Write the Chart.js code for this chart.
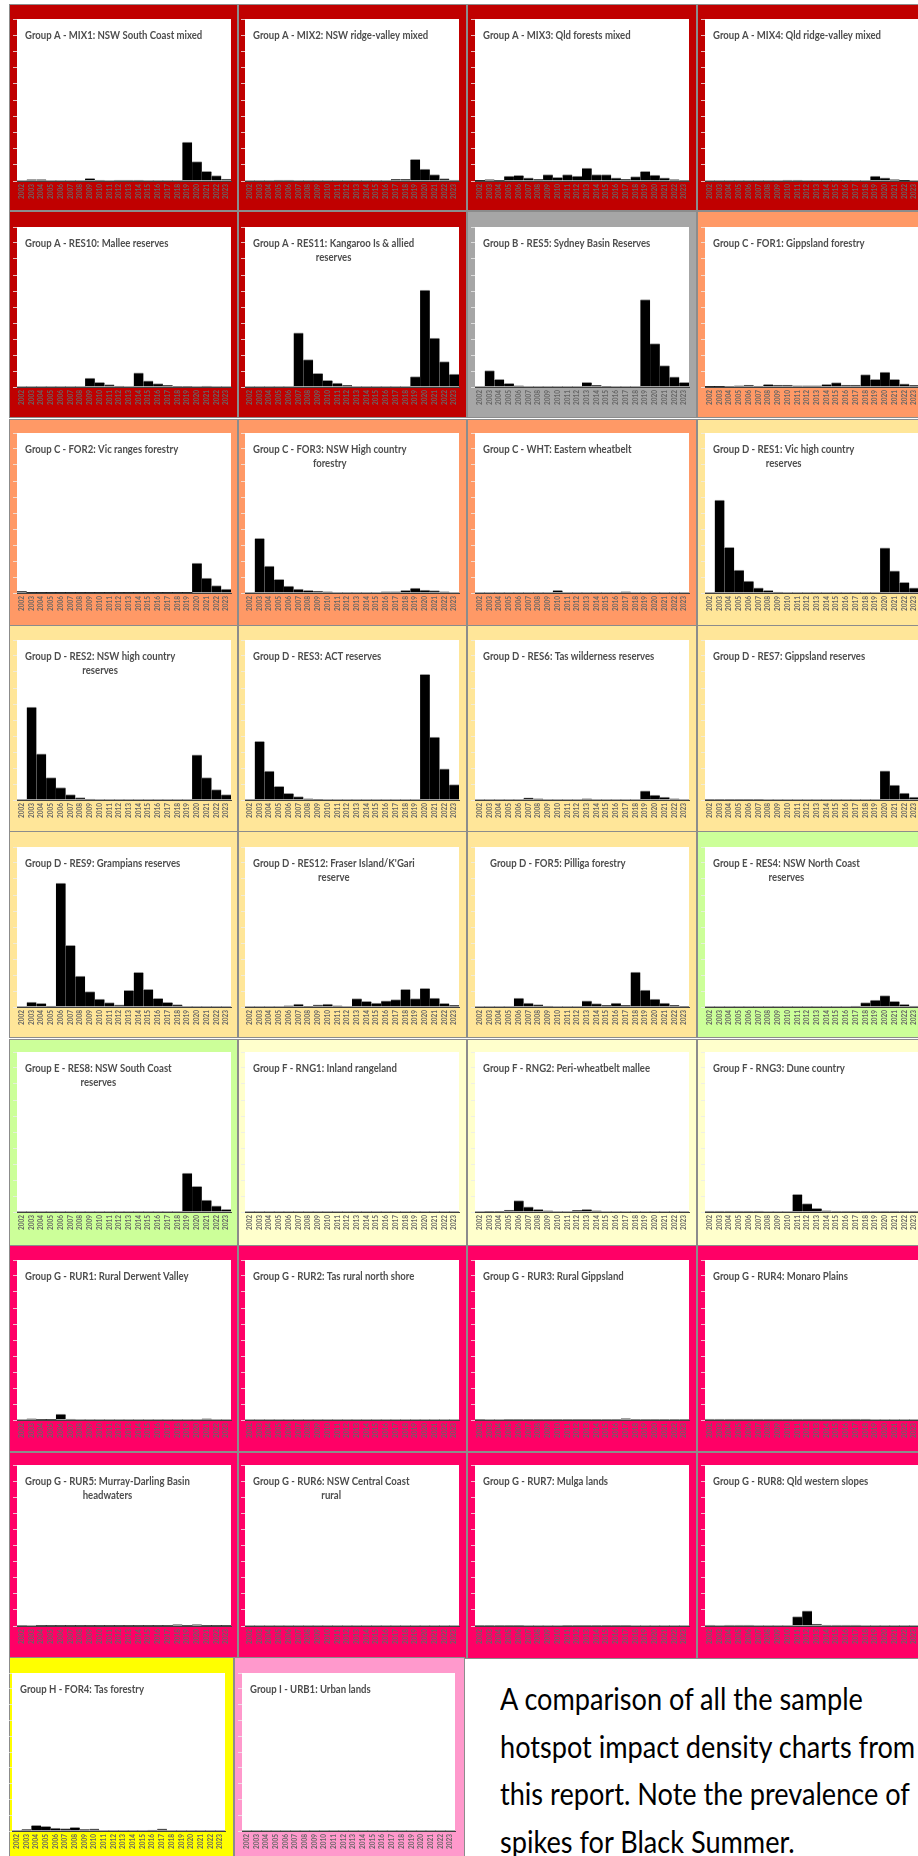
<!DOCTYPE html>
<html>
<head>
<meta charset="utf-8">
<script src="https://cdn.jsdelivr.net/npm/chart.js@4.4.1/dist/chart.umd.min.js"></script>
<style>
  html, body { margin: 0; padding: 0; background: #ffffff; }
  body { width: 918px; height: 1856px; overflow: hidden; position: relative; }
  .cell { position: absolute; box-sizing: border-box; border: 1px solid #8c8c8c; }
  .panel { position: absolute; }
  .note {
    position: absolute; left: 500px; top: 1675px;
    font-family: Lato, "Open Sans", sans-serif; font-size: 31px; line-height: 47.7px;
    color: #000; white-space: nowrap; transform: scaleX(0.875); transform-origin: 0 0;
  }
</style>
</head>
<body>
<div class="note">A comparison of all the sample<br>hotspot impact density charts from<br>this report. Note the prevalence of<br>spikes for Black Summer.</div>
<script>
// Fire years shown on every panel
const YEARS = ['2002','2003','2004','2005','2006','2007','2008','2009','2010','2011','2012',
               '2013','2014','2015','2016','2017','2018','2019','2020','2021','2022','2023'];

// Hotspot impact density per year (share of the panel's vertical axis, 0-100)
const MIX1  = [0, 0.8, 0.8, 0, 0, 0, 0, 1.6, 0.6, 0, 0.6, 0.6, 0.6, 0, 0, 0, 0, 24, 12, 6, 3.3, 1.2];
const MIX2  = [0, 0, 0, 0.6, 0.6, 0, 0, 0, 0, 0, 0, 0, 0, 0, 0, 1, 1, 13.4, 7.4, 4, 1.5, 0.6];
const MIX3  = [0.2, 0.8, 0.3, 3, 3.5, 2, 1, 4, 2.3, 4, 3, 8, 4, 4, 2, 1, 2.7, 6, 3.7, 1.9, 0.8, 0.4];
const MIX4  = [0, 0, 0, 0, 0, 0, 0, 0, 0.6, 0.6, 0, 0, 0, 0, 0, 0, 0, 3, 1.9, 0.8, 0.2, 0];
const RES10 = [0, 0, 0, 0, 0, 0, 0, 5.6, 2.9, 1.5, 0.6, 0, 8.8, 3.8, 2.1, 1, 0.4, 0.4, 0, 0.6, 0, 0];
const RES11 = [0, 0, 0, 0, 0, 33.8, 17.1, 8.6, 4.2, 2.5, 1, 0, 0, 0, 0, 0, 0, 6.5, 60.5, 30.5, 15.9, 8.1];
const RES5  = [0, 10.2, 4.8, 2.3, 0.8, 0, 0, 0, 0, 0, 0, 2.9, 1, 0.4, 0, 0, 0, 54.7, 27.1, 13.4, 6.3, 2.9];
const FOR1  = [0.2, 0.2, 0.4, 0.8, 1.2, 0.6, 1.7, 1.2, 1.2, 0.8, 0.8, 0.8, 1.7, 2.7, 1.2, 1.2, 7.7, 4.8, 9.3, 4.8, 2, 1];
const FOR2  = [1, 0.2, 0.2, 0.2, 0.2, 0.2, 0.2, 0.2, 0.2, 0.2, 0.2, 0.2, 0.2, 0.2, 0.2, 0.2, 0.2, 0.2, 18.7, 9.3, 4.6, 2.5];
const FOR3  = [0, 34.2, 16.8, 8.5, 4.4, 2.5, 1.7, 1.2, 0.8, 0, 0, 0, 0, 0, 0.8, 0.8, 1.7, 3.1, 1.9, 1.5, 0.8, 0];
const WHT   = [0, 0, 0, 0, 0, 0, 0, 0, 1.7, 0, 0, 0, 0, 0, 0, 0.8, 0, 0, 0, 0, 0, 0];
const RES1  = [0, 58, 28.6, 14.3, 7.5, 3.3, 1.7, 0.6, 0, 0, 0, 0, 0, 0, 0, 0, 0, 0, 28.2, 13.9, 6.6, 3.3];
const RES2  = [0, 58, 28.9, 14, 7.8, 3.4, 1.5, 0.6, 0, 0, 0, 0, 0, 0, 0, 0, 0, 0, 28.3, 14, 6.5, 3.4];
const RES3  = [0, 36.6, 18, 8.6, 4.2, 2.1, 0.8, 0.4, 0, 0, 0, 0, 0, 0, 0, 0, 0, 0, 78.5, 39.3, 19.5, 9.6];
const RES6  = [0, 0, 0, 0, 0, 1.4, 0.8, 0, 0, 0, 0, 0.8, 0, 0, 0, 0, 0, 5.8, 3.1, 1.9, 0.8, 0];
const RES7  = [0.4, 0.4, 0.4, 0.4, 0.4, 0.4, 0, 0, 0, 0, 0, 0, 0, 0, 0, 0, 0, 0, 18.2, 9.3, 4.3, 1.9];
const RES9  = [0, 3.1, 2.3, 0.6, 77.5, 38.6, 19.4, 9.6, 5, 2.7, 1.3, 10.4, 21.7, 11.1, 5.4, 2.9, 1.5, 0, 0, 0, 0, 0];
const RES12 = [0, 0, 0, 0, 0.8, 1.9, 0.4, 1.3, 1.9, 0.8, 0, 5.2, 3.5, 2.5, 3.8, 4.6, 11.1, 5.2, 11.7, 5.6, 2.3, 1];
const FOR5  = [0, 0, 0, 0, 5.6, 2.5, 1.5, 0.6, 0, 0, 0, 3.8, 2.1, 1, 2.5, 1, 21.9, 10.6, 5, 2.5, 1, 0.4];
const RES4  = [0, 0, 0, 0, 0, 0, 0, 0, 0, 0, 0, 0, 0, 0, 0, 0.6, 2.7, 4.4, 7.1, 3.6, 1.7, 0.6];
const RES8  = [0, 0, 0, 0, 0, 0, 0, 0, 0, 0, 0, 0, 0, 0, 0, 0, 0, 24.3, 16.1, 7.5, 3.8, 1.7];
const RNG1  = [0, 0, 0, 0, 0, 0, 0, 0, 0, 0, 0, 0, 0, 0, 0, 0, 0, 0, 0, 0, 0, 0];
const RNG2  = [0, 0.4, 0.4, 1.2, 7.1, 3.3, 1.7, 0.8, 0, 0, 1, 1.7, 0.8, 0, 0, 0, 0, 0, 0, 0, 0, 0];
const RNG3  = [0.6, 0.6, 0.6, 0.6, 0.6, 0.6, 0, 0, 0, 11, 5.2, 2.3, 0.8, 0.6, 0.6, 0.6, 0.6, 0.6, 0.6, 0.6, 0.6, 0.6];
const RUR1  = [0, 0.8, 0.3, 0.3, 3.7, 0.6, 0, 0, 0, 0, 0, 0, 0, 0, 0, 0, 0, 0, 0, 0.8, 0, 0];
const RUR2  = [0, 0, 0, 0, 0, 0, 0, 0, 0, 0, 0, 0, 0, 0, 0, 0, 0, 0, 0, 0, 0, 0];
const RUR3  = [0.4, 0, 0, 0.4, 0.4, 0.4, 0.4, 0.4, 0.4, 0.4, 0.4, 0.4, 0.4, 0.4, 0.4, 0.9, 0.4, 0.4, 0.4, 0.4, 0.4, 0.4];
const RUR4  = [0.5, 0.5, 0.5, 0.5, 0.5, 0.5, 0.5, 0.5, 0.5, 0.5, 0.5, 0.5, 0.5, 0.5, 0.5, 0.5, 0.5, 0, 0, 0, 0, 0];
const RUR5  = [0.4, 0, 0.3, 0.3, 0.3, 0.3, 0.3, 0.3, 0.3, 0.3, 0.3, 0.3, 0.3, 0.3, 0.3, 0.3, 0.9, 0.3, 0.9, 0.3, 0.3, 0.3];
const RUR6  = [0, 0, 0, 0, 0, 0, 0, 0, 0, 0, 0, 0, 0, 0, 0, 0, 0, 0, 0, 0, 0, 0];
const RUR7  = [0.4, 0.4, 0.4, 0.4, 0.4, 0, 0, 0, 0, 0.4, 0.4, 0.4, 0.4, 0.4, 0.4, 0.4, 0, 0, 0, 0, 0, 0];
const RUR8  = [0.6, 0, 0.6, 0.6, 0.6, 0, 0, 0, 0, 5.8, 9.5, 1.2, 0.6, 0.6, 0.6, 0.6, 0, 0, 0, 0, 0, 0];
const FOR4  = [0, 1, 3.6, 2.9, 1.9, 1.5, 2.3, 1, 1.3, 0, 0, 0, 0, 0, 0.6, 1.3, 0, 0, 0, 0, 0, 0];
const URB1  = [0, 0, 0, 0, 0, 0, 0, 0, 0, 0, 0, 0, 0, 0, 0, 0, 0, 0, 0, 0, 0, 0];

// Panel fill colour for each landscape group
const GROUP_COLOURS = {
  A: '#C00000', B: '#A6A6A6', C: '#FF9966', D: '#FFE699', E: '#CCFF99',
  F: '#FFFFCC', G: '#FF0066', H: '#FFFF00', I: '#FF99CC'
};

// Panels, row by row: [group, title lines, series]
const PANELS = [
  ['A', ['Group A - MIX1: NSW South Coast mixed'], MIX1],
  ['A', ['Group A - MIX2: NSW ridge-valley mixed'], MIX2],
  ['A', ['Group A - MIX3: Qld forests mixed'], MIX3],
  ['A', ['Group A - MIX4: Qld ridge-valley mixed'], MIX4],
  ['A', ['Group A - RES10: Mallee reserves'], RES10],
  ['A', ['Group A - RES11: Kangaroo Is & allied', 'reserves'], RES11],
  ['B', ['Group B - RES5: Sydney Basin Reserves'], RES5],
  ['C', ['Group C - FOR1: Gippsland forestry'], FOR1],
  ['C', ['Group C - FOR2: Vic ranges forestry'], FOR2],
  ['C', ['Group C - FOR3: NSW High country', 'forestry'], FOR3],
  ['C', ['Group C - WHT: Eastern wheatbelt'], WHT],
  ['D', ['Group D - RES1: Vic high country', 'reserves'], RES1],
  ['D', ['Group D - RES2: NSW high country', 'reserves'], RES2],
  ['D', ['Group D - RES3: ACT reserves'], RES3],
  ['D', ['Group D - RES6: Tas wilderness reserves'], RES6],
  ['D', ['Group D - RES7: Gippsland reserves'], RES7],
  ['D', ['Group D - RES9: Grampians reserves'], RES9],
  ['D', ["Group D - RES12: Fraser Island/K'Gari", 'reserve'], RES12],
  ['D', ['Group D - FOR5: Pilliga forestry'], FOR5],
  ['E', ['Group E - RES4: NSW North Coast', 'reserves'], RES4],
  ['E', ['Group E - RES8: NSW South Coast', 'reserves'], RES8],
  ['F', ['Group F - RNG1: Inland rangeland'], RNG1],
  ['F', ['Group F - RNG2: Peri-wheatbelt mallee'], RNG2],
  ['F', ['Group F - RNG3: Dune country'], RNG3],
  ['G', ['Group G - RUR1: Rural Derwent Valley'], RUR1],
  ['G', ['Group G - RUR2: Tas rural north shore'], RUR2],
  ['G', ['Group G - RUR3: Rural Gippsland'], RUR3],
  ['G', ['Group G - RUR4: Monaro Plains'], RUR4],
  ['G', ['Group G - RUR5: Murray-Darling Basin', 'headwaters'], RUR5],
  ['G', ['Group G - RUR6: NSW Central Coast', 'rural'], RUR6],
  ['G', ['Group G - RUR7: Mulga lands'], RUR7],
  ['G', ['Group G - RUR8: Qld western slopes'], RUR8],
  ['H', ['Group H - FOR4: Tas forestry'], FOR4],
  ['I', ['Group I - URB1: Urban lands'], URB1]
];

// Sheet geometry (page pixels)
const CELL_X   = [9, 238, 467, 697];
const CELL_W   = [229, 229, 230, 232];
const PLOT_X   = [17, 245, 475, 705];
const PLOT_W   = 214;
const ROW_Y    = [4, 211, 419, 625, 831, 1039, 1245, 1452, 1657];
const ROW_H    = 207;
const PLOT_TOP = [19, 227, 433, 640, 847, 1052, 1260, 1465, 1673];
const PLOT_BOT = [181, 387, 593, 800, 1007, 1212, 1420, 1626, 1831];
// last row sits slightly further left
const LAST_CELL_X = [9, 234];
const LAST_CELL_W = [225, 231];
const LAST_PLOT_X = [12, 242];
const LAST_PLOT_W = 213;

const TICK_LEN = 4;
const X_AXIS_H = 22;
const TITLE_SCALE = 0.87;
const TITLE_DX = { 18: 15 };

const panelPaint = {
  id: 'panelPaint',
  beforeDraw(chart) {
    const { ctx, chartArea: a } = chart;
    ctx.save();
    ctx.fillStyle = '#ffffff';
    ctx.fillRect(a.left, a.top, a.right - a.left, a.bottom - a.top);
    ctx.restore();
  },
  afterDraw(chart, args, opts) {
    const { ctx, chartArea: a } = chart;
    ctx.save();
    ctx.font = '700 11px Lato, "Open Sans", sans-serif';
    ctx.fillStyle = '#4d4d4d';
    ctx.textBaseline = 'middle';
    ctx.textAlign = 'left';
    const widths = opts.lines.map(l => ctx.measureText(l).width * TITLE_SCALE);
    const block = Math.max(...widths);
    const x0 = a.left + opts.dx;
    opts.lines.forEach((line, i) => {
      ctx.save();
      ctx.translate(x0 + (block - widths[i]) / 2, a.top + 16 + i * 14);
      ctx.scale(TITLE_SCALE, 1);
      ctx.fillText(line, 0, 0);
      ctx.restore();
    });
    ctx.restore();
  }
};

function addPanel(idx) {
  const [group, lines, series] = PANELS[idx];
  const row = Math.floor(idx / 4), col = idx % 4;
  const last = row === 8;
  const cx = last ? LAST_CELL_X[col] : CELL_X[col];
  const cw = last ? LAST_CELL_W[col] : CELL_W[col];
  const px = last ? LAST_PLOT_X[col] : PLOT_X[col];
  const pw = last ? LAST_PLOT_W : PLOT_W;
  const cy = ROW_Y[row];
  const ch = ROW_H;

  const cell = document.createElement('div');
  cell.className = 'cell';
  cell.style.cssText = `left:${cx}px;top:${cy}px;width:${cw}px;height:${ch + (last ? 20 : 0)}px;background:${GROUP_COLOURS[group]}`;
  document.body.appendChild(cell);

  // canvas spans the cell and reaches past the plot's right edge where needed
  const cvW = Math.max(cw, px + pw - cx + 2);
  const cv = document.createElement('canvas');
  cv.className = 'panel';
  cv.width = cvW; cv.height = ch;
  cv.style.cssText = `left:${cx}px;top:${cy}px;width:${cvW}px;height:${ch}px`;
  document.body.appendChild(cv);

  const padL = px - cx - TICK_LEN;
  const padT = PLOT_TOP[row] - cy;
  const padR = cvW - (px - cx + pw);
  const padB = ch - (PLOT_BOT[row] - cy) - X_AXIS_H;

  new Chart(cv, {
    type: 'bar',
    data: {
      labels: YEARS,
      datasets: [{
        data: series,
        backgroundColor: '#000000',
        borderColor: '#9a9a9a',
        borderWidth: { top: 1, left: 0, right: 0, bottom: 0 },
        borderSkipped: 'start',
        categoryPercentage: 1,
        barPercentage: 1
      }]
    },
    options: {
      responsive: false,
      animation: false,
      devicePixelRatio: 1,
      layout: { padding: { left: padL, top: padT, right: padR, bottom: padB } },
      plugins: {
        legend: { display: false },
        tooltip: { enabled: false },
        title: { display: false },
        panelPaint: { lines, dx: TITLE_DX[idx] || 8 }
      },
      scales: {
        x: {
          type: 'category',
          offset: true,
          grid: { display: false, drawTicks: false },
          border: { display: true, color: '#404040', width: 1 },
          ticks: {
            autoSkip: false, minRotation: 90, maxRotation: 90, padding: 3,
            color: '#666666',
            font: { family: 'Lato, "Open Sans", sans-serif', size: 6.5, weight: 'bold' }
          },
          afterFit(s) { s.height = X_AXIS_H; s.paddingLeft = 0; s.paddingRight = 0; }
        },
        y: {
          min: 0, max: 100,
          ticks: { display: false, stepSize: 10 },
          grid: { drawOnChartArea: false, drawTicks: true, tickLength: TICK_LEN, color: 'rgba(235,235,235,0.8)' },
          border: { display: false },
          afterFit(s) { s.width = TICK_LEN; s.paddingTop = 0; s.paddingBottom = 0; }
        }
      }
    },
    plugins: [panelPaint]
  });
}

PANELS.forEach((p, i) => addPanel(i));
</script>
</body>
</html>
